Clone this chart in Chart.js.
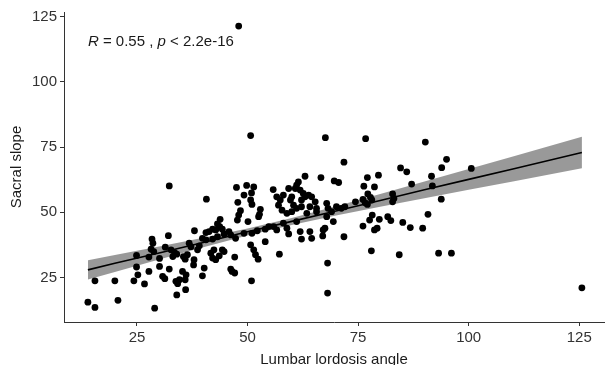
<!DOCTYPE html>
<html>
<head>
<meta charset="utf-8">
<script src="https://cdn.jsdelivr.net/npm/chart.js@4/dist/chart.umd.min.js"></script>
<style>
  html, body { margin: 0; padding: 0; background: #ffffff; }
  #wrap { width: 608px; height: 365px; }
</style>
</head>
<body>
<div id="wrap"><canvas id="c" width="608" height="365"></canvas></div>
<script>
// Lumbar lordosis angle (x) and sacral slope (y)
const lordosis = [
  32.3,40.7,38.0,32.1,28.4,28.6,28.2,28.8,31.4,32.7,33.5,33.1,34.0,24.9,27.7,30.1,24.9,25.2,27.7,30.1,
  32.3,30.8,31.3,24.3,26.7,15.5,20.0,13.9,15.5,20.7,29.0,33.8,34.2,34.6,34.0,36.0,35.3,36.1,35.9,35.5,
  36.4,35.9,37.9,37.8,36.8,37.2,38.7,39.1,
  47.5,49.8,51.4,50.9,49.2,55.8,47.8,50.7,51.0,48.4,48.0,47.7,50.1,52.9,52.7,52.5,
  43.8,43.2,43.7,44.3,42.8,42.1,41.3,40.6,44.7,45.8,46.2,39.8,40.6,42.1,43.2,49.2,47.3,
  42.4,41.7,42.1,42.8,44.3,43.6,44.7,40.2,39.8,46.2,46.5,47.1,50.9,54.0,50.7,51.4,51.8,52.4,47.1,
  51.0,52.2,54.0,54.8,
  63.0,66.6,69.6,61.5,61.1,60.8,61.9,62.6,63.0,62.2,63.8,64.5,
  59.3,60.0,59.7,60.4,58.1,57.4,56.6,57.0,57.8,58.9,60.0,61.1,62.2,
  65.3,65.6,64.1,63.4,65.6,67.9,68.2,67.9,69.0,70.1,71.2,72.0,
  69.4,61.1,58.1,58.9,56.6,55.9,59.3,61.9,62.2,64.1,64.5,67.1,67.5,67.0,57.2,68.1,
  76.7,90.2,71.8,70.6,95.0,93.9,84.6,86.0,79.6,77.1,100.6,91.6,76.3,78.7,87.1,91.8,77.2,77.8,78.1,74.4,
  76.1,76.6,77.1,82.8,83.1,82.8,93.8,78.2,77.6,76.1,79.8,81.7,82.4,78.7,79.3,85.1,86.8,89.6,90.8,71.8,
  78.0,84.3,93.2,96.1,
  50.7,67.6,68.1,48.0,125.6
];
const sacral = [
  60.1,55.0,42.9,41.0,39.7,38.1,35.8,34.9,36.6,35.6,34.5,33.0,33.9,33.4,32.8,32.3,29.0,26.0,27.3,29.2,
  28.2,25.4,24.5,23.7,22.5,23.7,23.7,15.5,13.5,16.2,13.2,23.5,22.6,24.1,18.3,20.3,27.3,26.0,24.1,33.0,
  33.7,32.0,31.8,29.8,38.1,36.8,35.6,37.1,
  59.5,60.3,59.7,57.4,56.6,58.7,53.8,54.7,53.0,50.6,48.9,47.0,46.4,51.1,49.2,48.3,
  47.3,45.5,44.5,43.5,43.2,43.5,42.6,42.2,41.7,42.6,41.3,40.0,39.4,39.7,40.6,41.9,40.0,
  35.6,34.3,32.4,31.8,35.6,33.3,34.9,28.6,25.6,28.2,27.3,26.7,23.7,38.7,37.5,35.6,33.7,32.0,32.8,
  41.9,42.9,43.5,44.5,
  63.8,63.3,62.0,61.6,60.4,59.1,58.5,57.2,55.9,54.7,56.6,55.9,
  59.1,55.9,54.7,52.7,56.6,54.7,55.9,52.7,50.8,49.6,50.2,51.5,52.1,
  54.0,51.5,52.1,49.6,50.2,53.4,51.5,48.3,50.2,52.1,51.5,52.1,
  46.4,46.4,45.8,43.9,43.2,44.5,41.7,42.6,39.7,42.6,40.0,43.2,43.9,40.9,33.9,30.5,
  78.2,76.9,69.2,61.4,70.3,67.1,67.0,65.5,64.2,63.3,66.8,63.8,60.0,59.7,60.8,60.1,57.0,55.7,54.7,54.0,
  54.9,53.6,53.0,57.0,55.3,54.0,55.0,48.9,47.0,44.7,47.3,48.3,46.8,43.2,43.9,46.1,44.1,43.9,49.2,40.6,
  35.2,33.7,34.3,34.3,
  79.4,78.6,19.0,121.4,21.0
];

// regression line and its confidence band
const fitX     = [13.9, 20, 30, 40, 50, 60, 70, 80, 90, 100, 110, 125.6];
const fitY     = [27.9, 30.4, 34.4, 38.4, 42.5, 46.5, 50.5, 54.5, 58.6, 62.6, 66.6, 72.9];
const bandLow  = [24.2, 27.1, 31.9, 36.6, 41.1, 45.1, 48.7, 52.1, 55.4, 58.6, 61.8, 66.9];
const bandHigh = [31.6, 33.6, 36.9, 40.2, 43.8, 47.8, 52.3, 57.0, 61.8, 66.6, 71.4, 79.0];

const xTicks = [25, 50, 75, 100, 125];
const yTicks = [25, 50, 75, 100, 125];

const xTitle = 'Lumbar lordosis angle';
const yTitle = 'Sacral slope';
const statR = '0.55';
const statP = '2.2e-16';

const FONT = "'Liberation Sans', Arial, sans-serif";

const pts = lordosis.map((x, i) => ({ x: x, y: sacral[i] }));
const fitPts = fitX.map((x, i) => ({ x: x, y: fitY[i] }));
const lowPts = fitX.map((x, i) => ({ x: x, y: bandLow[i] }));
const highPts = fitX.map((x, i) => ({ x: x, y: bandHigh[i] }));

const textPlugin = {
  id: 'texts',
  afterDraw(chart) {
    const ctx = chart.ctx;
    const area = chart.chartArea;
    const xs = chart.scales.x;
    ctx.save();
    ctx.fillStyle = '#1a1a1a';
    // x title
    ctx.font = '15px ' + FONT;
    ctx.textAlign = 'center';
    ctx.textBaseline = 'alphabetic';
    ctx.fillText(xTitle, (area.left + area.right) / 2, 364);
    // y title
    ctx.save();
    ctx.translate(21, (area.top + area.bottom) / 2);
    ctx.rotate(-Math.PI / 2);
    ctx.textAlign = 'center';
    ctx.textBaseline = 'alphabetic';
    ctx.fillText(yTitle, 0, 0);
    ctx.restore();
    // annotation
    let px = xs.getPixelForValue(13.9);
    const py = 46;
    ctx.textAlign = 'left';
    const parts = [
      ['italic ', 'R'], ['', ' = ' + statR + ' , '], ['italic ', 'p'], ['', ' < ' + statP]
    ];
    for (const [st, t] of parts) {
      ctx.font = st + '15px ' + FONT;
      ctx.fillText(t, px, py);
      px += ctx.measureText(t).width;
    }
    ctx.restore();
  }
};

new Chart(document.getElementById('c'), {
  data: {
    datasets: [
      { type: 'line', data: fitPts, borderColor: '#000000', borderWidth: 1.6, pointRadius: 0, fill: false, order: 1 },
      { type: 'line', data: lowPts, borderWidth: 0, borderColor: 'rgba(0,0,0,0)', pointRadius: 0, fill: false, order: 2 },
      { type: 'line', data: highPts, borderWidth: 0, borderColor: 'rgba(0,0,0,0)', pointRadius: 0, fill: '-1',
        backgroundColor: 'rgba(0,0,0,0.4)', order: 2 },
      { type: 'scatter', data: pts, backgroundColor: '#000000', borderWidth: 0, pointRadius: 3.4, order: 3 }
    ]
  },
  options: {
    responsive: false,
    animation: false,
    devicePixelRatio: 1,
    layout: { padding: { top: 11, right: 0, left: 0, bottom: 0 } },
    plugins: { legend: { display: false }, tooltip: { enabled: false } },
    scales: {
      x: {
        type: 'linear', min: 8.5, max: 130.6,
        afterBuildTicks: s => { s.ticks = xTicks.map(v => ({ value: v })); },
        afterFit: s => { s.height = 43; },
        grid: { display: true, drawOnChartArea: false, drawTicks: true, tickLength: 4, color: '#333333', lineWidth: 1 },
        border: { display: true, color: '#333333', width: 1 },
        ticks: { font: { family: FONT, size: 15 }, color: '#333333', padding: 3, maxRotation: 0 }
      },
      y: {
        type: 'linear', min: 7.9, max: 126.8,
        afterBuildTicks: s => { s.ticks = yTicks.map(v => ({ value: v })); },
        afterFit: s => { s.width = 64; },
        grid: { display: true, drawOnChartArea: false, drawTicks: true, tickLength: 4, color: '#333333', lineWidth: 1 },
        border: { display: true, color: '#333333', width: 1 },
        ticks: { font: { family: FONT, size: 15 }, color: '#333333', padding: 3 }
      }
    }
  },
  plugins: [textPlugin]
});
</script>
</body>
</html>
